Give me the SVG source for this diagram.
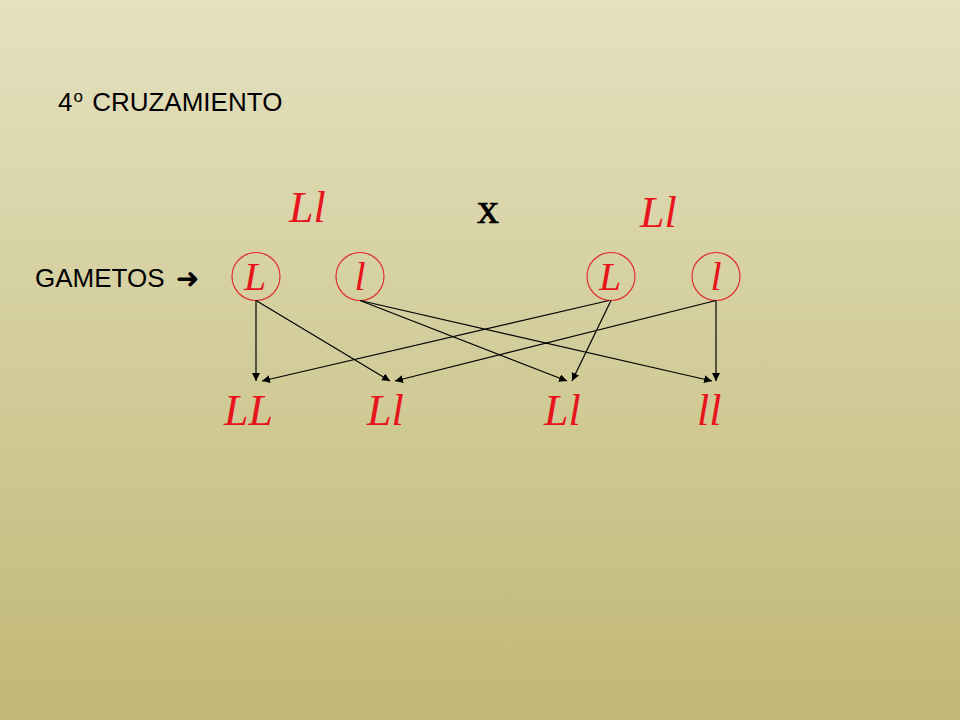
<svg xmlns="http://www.w3.org/2000/svg" width="960" height="720" viewBox="0 0 960 720">
<defs>
<linearGradient id="bg" x1="0" y1="0" x2="0" y2="1">
<stop offset="0" stop-color="#e4e1c0"/>
<stop offset="1" stop-color="#c1b875"/>
</linearGradient>
<marker id="ah" viewBox="0 0 10 10" refX="10" refY="5" markerWidth="8" markerHeight="8" markerUnits="userSpaceOnUse" orient="auto">
<path d="M0,0 L10,5 L0,10 z" fill="#000"/>
</marker>
<style>
.lbl{font-family:"Liberation Sans",Arial,sans-serif;font-size:26px;fill:#000}
.gen{font-family:"Liberation Serif","Times New Roman",serif;font-style:italic;font-size:44px;fill:#e8141c}
.gam{font-family:"Liberation Serif","Times New Roman",serif;font-style:italic;font-size:40px;fill:#e8141c;text-anchor:middle}
.circ{fill:none;stroke:#e03030;stroke-width:1.2}
.con line{stroke:#000;stroke-width:1.2;marker-end:url(#ah)}
</style>
</defs>
<rect x="0" y="0" width="960" height="720" fill="url(#bg)"/>
<g id="title">
<text class="lbl" x="58" y="111" font-size="27">4<tspan font-size="17" dy="-9" dx="1">o</tspan><tspan dy="9" dx="2"> CRUZAMIENTO</tspan></text>
</g>
<g id="gametos-label">
<text class="lbl" x="35" y="287">GAMETOS</text>
<text x="176" y="288" font-family="'DejaVu Sans',sans-serif" font-size="28" font-weight="bold" fill="#000">➜</text>
</g>
<g id="parent1"><text class="gen" x="289" y="222">Ll</text></g>
<g id="cross"><text x="477" y="223" font-family="'Liberation Serif','Times New Roman',serif" font-size="44" fill="#000" stroke="#000" stroke-width="0.6">x</text></g>
<g id="parent2"><text class="gen" x="640" y="227">Ll</text></g>
<g id="gamete1"><circle class="circ" cx="256" cy="276.5" r="24"/><text class="gam" x="255" y="290">L</text></g>
<g id="gamete2"><circle class="circ" cx="360" cy="276.5" r="24"/><text class="gam" x="360" y="290">l</text></g>
<g id="gamete3"><circle class="circ" cx="611" cy="276.5" r="24"/><text class="gam" x="610" y="290">L</text></g>
<g id="gamete4"><circle class="circ" cx="716" cy="276.5" r="24"/><text class="gam" x="716" y="290">l</text></g>
<g id="child1"><text class="gen" x="224" y="425">LL</text></g>
<g id="child2"><text class="gen" x="367" y="425">Ll</text></g>
<g id="child3"><text class="gen" x="544" y="425">Ll</text></g>
<g id="child4"><text class="gen" x="697" y="425">ll</text></g>
<g id="connectors" class="con">
<line x1="256" y1="300.5" x2="256" y2="381"/>
<line x1="256" y1="300.5" x2="390" y2="381"/>
<line x1="360" y1="300.5" x2="567" y2="381"/>
<line x1="360" y1="300.5" x2="712" y2="381"/>
<line x1="609" y1="300.5" x2="262" y2="381"/>
<line x1="611" y1="300.5" x2="572" y2="381"/>
<line x1="716" y1="300.5" x2="395" y2="381"/>
<line x1="716" y1="300.5" x2="716" y2="381"/>
</g>
</svg>
